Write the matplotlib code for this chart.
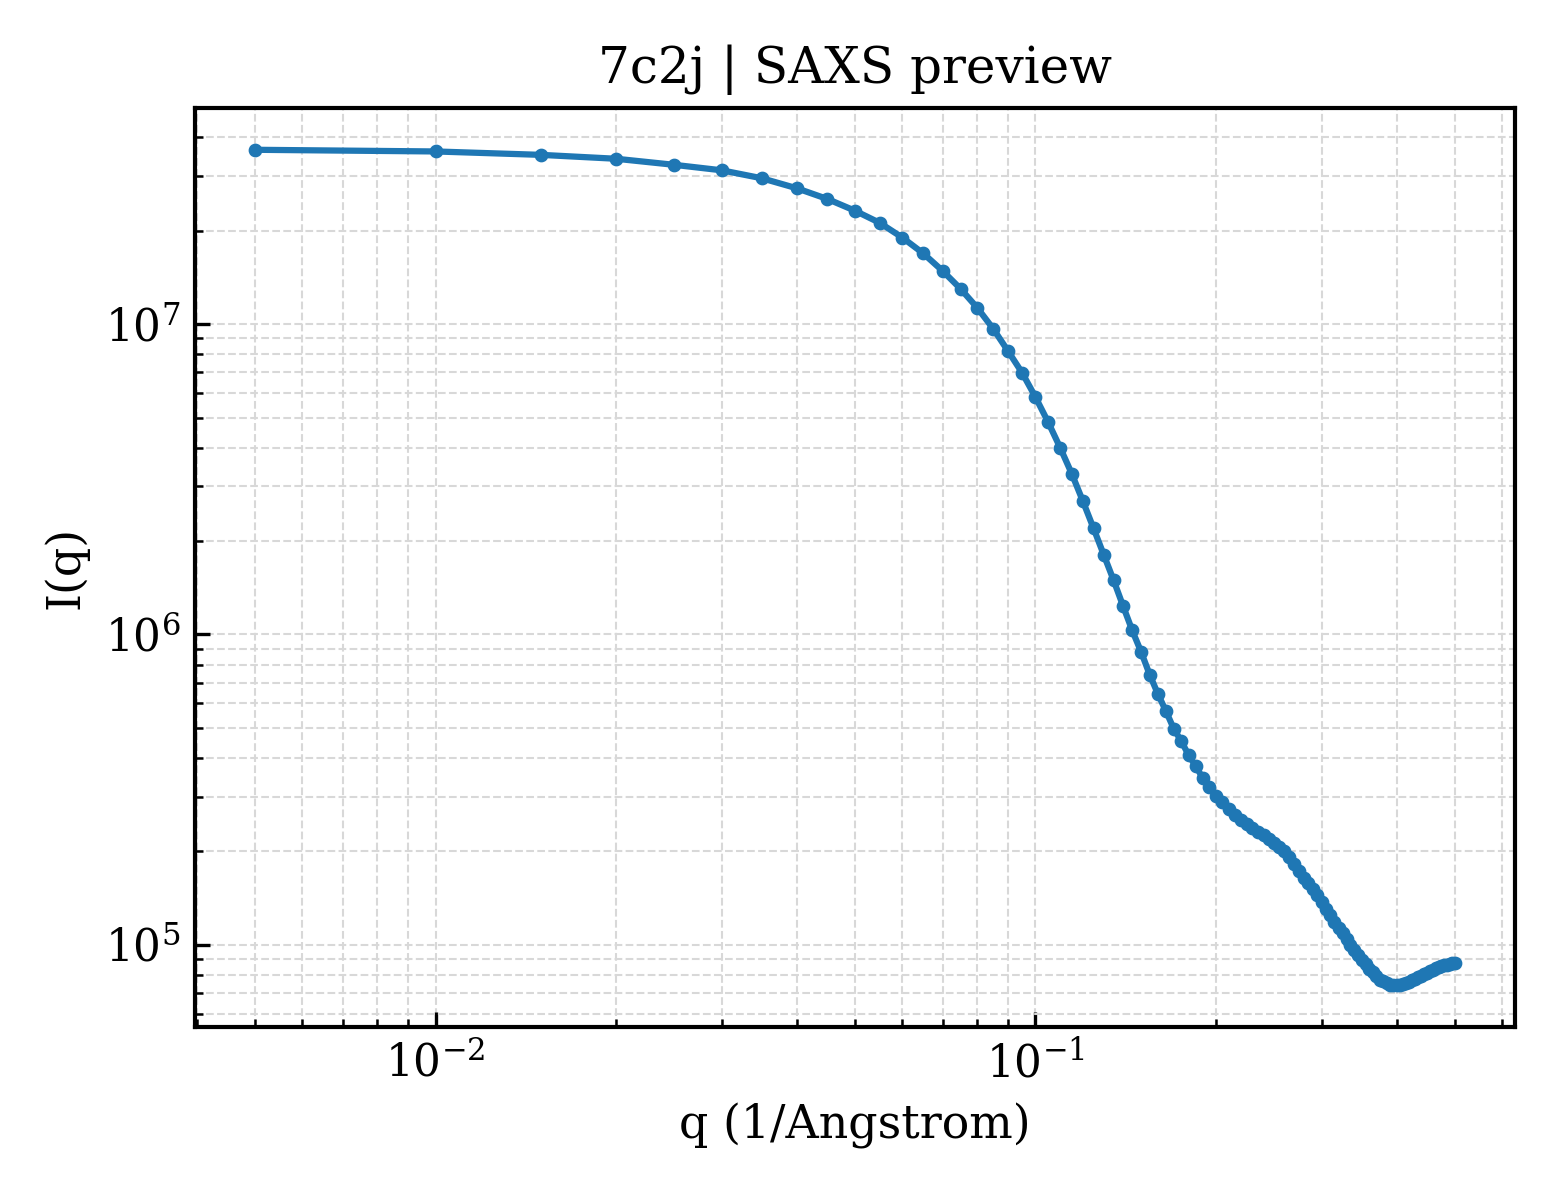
import numpy as np
import matplotlib
matplotlib.use("Agg")
import matplotlib.pyplot as plt

q = np.round(np.arange(1, 101) * 0.005, 3)

I_low = [3.645e7, 3.60e7, 3.51e7, 3.41e7, 3.26e7, 3.13e7, 2.95e7, 2.74e7,
         2.53e7, 2.32e7, 2.12e7, 1.90e7, 1.69e7, 1.485e7, 1.30e7, 1.128e7,
         9.67e6, 8.19e6, 6.97e6, 5.82e6]
I_mid = [4.83e6, 3.99e6, 3.29e6, 2.685e6, 2.196e6, 1.804e6, 1.494e6, 1.234e6,
         1.030e6, 8.79e5, 7.43e5, 6.43e5, 5.665e5, 4.972e5, 4.531e5, 4.089e5,
         3.761e5, 3.453e5, 3.234e5, 3.025e5]
I_shoulder = [2.876e5, 2.732e5, 2.619e5, 2.529e5, 2.452e5, 2.382e5, 2.314e5,
              2.253e5, 2.191e5, 2.127e5, 2.063e5, 2.000e5, 1.914e5, 1.821e5,
              1.732e5, 1.644e5, 1.585e5, 1.514e5, 1.444e5, 1.375e5]
I_drop = [1.309e5, 1.246e5, 1.187e5, 1.134e5, 1.088e5, 1.041e5, 9.99e4,
          9.60e4, 9.24e4, 8.93e4, 8.65e4, 8.37e4, 8.16e4, 7.95e4, 7.73e4,
          7.63e4, 7.53e4, 7.44e4, 7.40e4, 7.41e4]
I_tail = [7.42e4, 7.46e4, 7.54e4, 7.61e4, 7.69e4, 7.78e4, 7.87e4, 7.96e4,
          8.04e4, 8.14e4, 8.23e4, 8.32e4, 8.41e4, 8.50e4, 8.53e4, 8.58e4,
          8.63e4, 8.66e4, 8.71e4, 8.73e4]

I = np.array(I_low + I_mid + I_shoulder + I_drop + I_tail)

plt.rcParams["font.family"] = "DejaVu Serif"

fig, ax = plt.subplots(figsize=(5.2, 4), dpi=300)
fig.subplots_adjust(left=0.125, right=0.971, bottom=0.144, top=0.91)

ax.plot(q, I, "-o", color="#1f77b4", lw=1.5, ms=2.3)
ax.set_xscale("log")
ax.set_yscale("log")

ax.set_title("7c2j | SAXS preview", fontsize=12)
ax.set_xlabel("q (1/Angstrom)", fontsize=11)
ax.set_ylabel("I(q)", fontsize=11)

ax.grid(True, which="both", ls="--", lw=0.5, color="#d8d8d8")
ax.tick_params(which="both", direction="in", labelsize=10.5)
for s in ax.spines.values():
    s.set_linewidth(1.0)

fig.savefig("out.png", dpi=300)
